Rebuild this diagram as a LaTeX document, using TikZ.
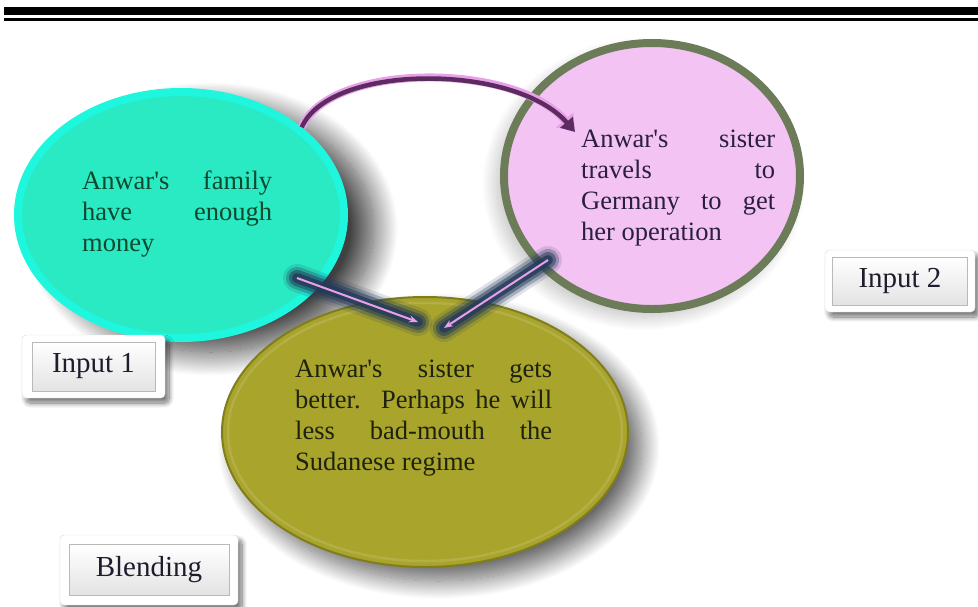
\documentclass[tikz,border=0pt]{standalone}
\usepackage{fontspec}
\setmainfont{Liberation Serif}[Ligatures=TeXOff]
\usetikzlibrary{arrows.meta,shapes.geometric,shadows.blur}
\definecolor{famFill}{RGB}{42,234,196}
\definecolor{famRim}{RGB}{30,246,222}
\definecolor{famText}{RGB}{16,72,46}
\definecolor{sisFill}{RGB}{243,196,243}
\definecolor{sisRim}{RGB}{108,124,88}
\definecolor{sisText}{RGB}{42,32,62}
\definecolor{blendFill}{RGB}{168,164,44}
\definecolor{blendRim}{RGB}{128,126,28}
\definecolor{blendText}{RGB}{30,34,14}
\definecolor{arcPink}{RGB}{232,160,232}
\definecolor{arcDark}{RGB}{92,44,96}
\definecolor{glowBlue}{RGB}{36,58,88}
\definecolor{tagText}{RGB}{30,28,45}
\begin{document}
\begin{tikzpicture}[x=1pt, y=-1pt,
        circ/.style={ellipse, inner sep=0pt},
        txt/.style={inner sep=0pt, anchor=north west, align=justify, font=\fontsize{26.5}{31}\selectfont},
        tagbox/.style={draw=gray!30, fill=white, rounded corners=4pt, inner sep=0pt,
            blur shadow={shadow xshift=4pt, shadow yshift=-5pt, shadow blur radius=5pt, shadow blur steps=12, shadow opacity=55}},
        tag/.style={draw=gray!55, top color=white, bottom color=gray!22, inner sep=0pt, text=tagText, font=\fontsize{29}{33}\selectfont},
        glow/.style={draw=glowBlue, line cap=round},
        link/.style={draw=arcPink, line width=2pt, -{Stealth[length=9pt,width=7pt]}}
    ]
    \useasboundingbox (0,0) rectangle (978,606);
    \fill (4,7) rectangle (978,15);
    \fill (4,18) rectangle (978,20.5);

    \node[circ, minimum width=326pt, minimum height=246pt, fill=famFill, draw=famRim, line width=8pt,
        blur shadow={shadow xshift=30pt, shadow yshift=-14pt, shadow blur radius=24pt, shadow blur steps=30, shadow opacity=75}] (family) at (181,215) {};
    \node[circ, minimum width=296pt, minimum height=266pt, fill=sisFill, draw=sisRim, line width=8pt,
        blur shadow={shadow xshift=-8pt, shadow yshift=-8pt, shadow blur radius=14pt, shadow blur steps=20, shadow opacity=25}] (sister) at (652,176) {};
    \node[circ, minimum width=406pt, minimum height=270pt, fill=blendFill, draw=blendRim, line width=2pt,
        blur shadow={shadow xshift=14pt, shadow yshift=-14pt, shadow blur radius=18pt, shadow blur steps=25, shadow opacity=60}] (blend) at (425,432) {};
    \draw[draw=blendFill!75!white, line width=2.5pt, opacity=0.5] (blend.center) ellipse (197pt and 129pt);

    \node[txt, text width=190pt, text=famText] (famTxt) at (82,171)
        {Anwar's family\linebreak have enough\linebreak money};
    \node[txt, text width=194pt, text=sisText] (sisTxt) at (581,130)
        {Anwar's sister\linebreak travels to\linebreak Germany to get\linebreak her operation};
    \node[txt, text width=257pt, text=blendText] (blendTxt) at (295,360)
        {Anwar's sister gets\linebreak better. Perhaps he will\linebreak less bad-mouth the\linebreak Sudanese regime};

    \node[tagbox, minimum width=143pt, minimum height=63pt] (in1box) at (93.5,366.5) {};
    \node[tag, minimum width=123pt, minimum height=49pt] (in1) at (in1box.center) {Input 1};
    \node[tagbox, minimum width=150pt, minimum height=62pt] (in2box) at (900,281) {};
    \node[tag, minimum width=135pt, minimum height=48pt] (in2) at (in2box.center) {Input 2};
    \node[tagbox, minimum width=178pt, minimum height=70pt] (mixbox) at (149,570) {};
    \node[tag, minimum width=160pt, minimum height=51pt] (mix) at (mixbox.center) {Blending};

    \coordinate (arcTip) at (575,132);
    \coordinate (famOut) at (297,278);
    \coordinate (sisOut) at (548,260);
    \coordinate (blendIn1) at (418,322);
    \coordinate (blendIn2) at (444,328);

    \draw[draw=arcPink, line width=8pt, -{Triangle[length=16pt,width=22pt]}]
        (family.36) .. controls (330,62) and (515,62) .. (arcTip);
    \draw[draw=arcDark, line width=4.5pt, -{Triangle[length=13pt,width=16pt]}]
        (family.36) .. controls (330,63) and (515,63) .. (arcTip);

    \foreach \w/\o in {28/0.15, 22/0.3, 16/0.5, 10/0.8} {
        \draw[glow, line width=\w pt, opacity=\o] (famOut) -- (blendIn1);
        \draw[glow, line width=\w pt, opacity=\o] (sisOut) -- (blendIn2);
    }
    \draw[link] (famOut) -- (blendIn1);
    \draw[link] (sisOut) -- (blendIn2);
\end{tikzpicture}
\end{document}
